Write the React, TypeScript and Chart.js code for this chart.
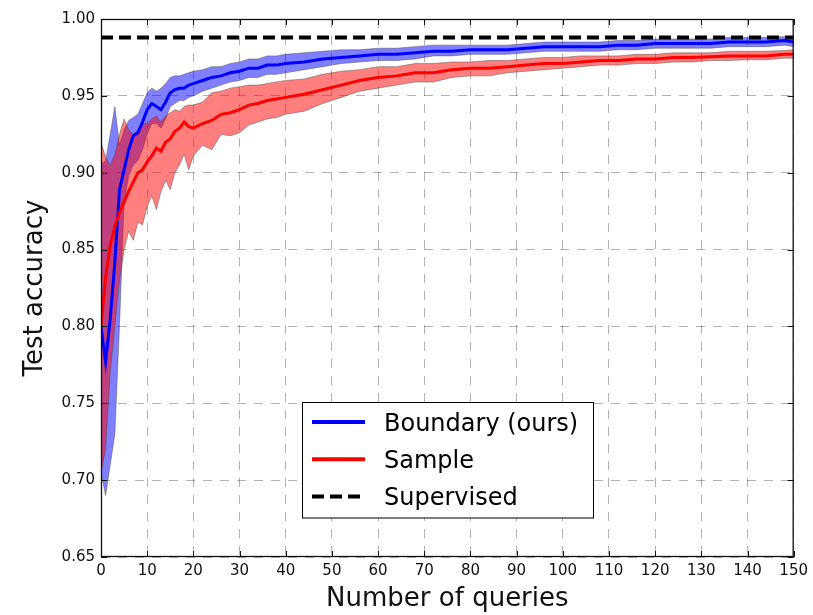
import { useEffect, useRef } from "react";
import { Chart, registerables } from "chart.js";

Chart.register(...registerables);

// ---------- data ----------
const queries = [0, 1, 2, 3, 4, 5, 6, 7, 8, 9, 10, 11, 12, 13, 14, 15, 16, 17, 18, 19, 20,
  22, 24, 26, 28, 30, 32, 34, 36, 38, 40,
  44, 48, 52, 56, 60, 64, 68, 72, 76, 80, 84, 88, 92, 96, 100, 104, 108, 112, 116, 120, 124, 128, 132, 136, 140, 144, 148, 150];

const boundaryMean = [0.800, 0.777, 0.805, 0.842, 0.889, 0.902, 0.915, 0.924, 0.926, 0.933, 0.941, 0.945, 0.943, 0.941, 0.946, 0.952, 0.954, 0.955, 0.955, 0.957, 0.958,
  0.960, 0.962, 0.963, 0.965, 0.966, 0.968, 0.968, 0.970, 0.970, 0.971,
  0.972, 0.974, 0.975, 0.976, 0.977, 0.977, 0.978, 0.979, 0.979, 0.980, 0.980, 0.980, 0.981, 0.982, 0.982, 0.982, 0.982, 0.983, 0.983, 0.984, 0.984, 0.984, 0.984, 0.985, 0.985, 0.985, 0.986, 0.985];

const boundaryUpper = [0.905, 0.908, 0.925, 0.943, 0.918, 0.928, 0.934, 0.936, 0.938, 0.945, 0.952, 0.955, 0.953, 0.955, 0.958, 0.962, 0.963, 0.963, 0.964, 0.965, 0.966,
  0.967, 0.969, 0.969, 0.971, 0.972, 0.974, 0.974, 0.976, 0.976, 0.977,
  0.978, 0.979, 0.980, 0.980, 0.981, 0.981, 0.982, 0.983, 0.983, 0.983, 0.983, 0.983, 0.984, 0.985, 0.985, 0.985, 0.985, 0.986, 0.986, 0.987, 0.987, 0.987, 0.987, 0.988, 0.988, 0.988, 0.9885, 0.988];

const boundaryLower = [0.705, 0.69, 0.71, 0.73, 0.80, 0.88, 0.898, 0.905, 0.908, 0.915, 0.925, 0.932, 0.932, 0.929, 0.935, 0.943, 0.945, 0.947, 0.947, 0.949, 0.950,
  0.953, 0.955, 0.957, 0.959, 0.960, 0.962, 0.962, 0.964, 0.964, 0.965,
  0.967, 0.969, 0.971, 0.972, 0.973, 0.973, 0.974, 0.976, 0.976, 0.977, 0.977, 0.977, 0.978, 0.979, 0.979, 0.979, 0.979, 0.980, 0.980, 0.981, 0.981, 0.981, 0.981, 0.982, 0.982, 0.982, 0.983, 0.982];

const sampleMean = [0.800, 0.832, 0.853, 0.865, 0.874, 0.881, 0.888, 0.894, 0.900, 0.902, 0.907, 0.911, 0.916, 0.914, 0.920, 0.922, 0.927, 0.929, 0.933, 0.930, 0.929,
  0.932, 0.934, 0.938, 0.939, 0.941, 0.944, 0.945, 0.947, 0.948, 0.949,
  0.951, 0.954, 0.957, 0.960, 0.962, 0.963, 0.965, 0.965, 0.967, 0.968, 0.968, 0.969, 0.970, 0.971, 0.971, 0.972, 0.973, 0.973, 0.974, 0.974, 0.975, 0.975, 0.9755, 0.976, 0.976, 0.976, 0.977, 0.977];

const sampleUpper = [0.920, 0.910, 0.905, 0.912, 0.925, 0.935, 0.928, 0.925, 0.928, 0.932, 0.932, 0.935, 0.937, 0.933, 0.937, 0.939, 0.941, 0.940, 0.943, 0.944, 0.944,
  0.946, 0.952, 0.953, 0.955, 0.956, 0.957, 0.957, 0.958, 0.959, 0.960,
  0.961, 0.964, 0.966, 0.967, 0.969, 0.969, 0.971, 0.971, 0.972, 0.972, 0.973, 0.973, 0.974, 0.975, 0.975, 0.976, 0.976, 0.976, 0.977, 0.977, 0.978, 0.978, 0.978, 0.979, 0.979, 0.979, 0.9795, 0.980];

const sampleLower = [0.705, 0.72, 0.77, 0.80, 0.83, 0.85, 0.862, 0.856, 0.868, 0.866, 0.878, 0.885, 0.876, 0.888, 0.895, 0.889, 0.900, 0.905, 0.912, 0.902, 0.911,
  0.918, 0.915, 0.925, 0.924, 0.926, 0.931, 0.933, 0.935, 0.936, 0.938,
  0.940, 0.945, 0.949, 0.953, 0.955, 0.957, 0.959, 0.959, 0.962, 0.963, 0.963, 0.965, 0.966, 0.967, 0.968, 0.969, 0.970, 0.970, 0.971, 0.971, 0.972, 0.972, 0.973, 0.973, 0.9735, 0.9735, 0.9745, 0.9745];

const supervisedAccuracy = 0.988;

const xTickValues = [0, 10, 20, 30, 40, 50, 60, 70, 80, 90, 100, 110, 120, 130, 140, 150];
const yTickValues = [0.65, 0.70, 0.75, 0.80, 0.85, 0.90, 0.95, 1.00];

const seriesNames = ["Boundary (ours)", "Sample", "Supervised"];
const xTitle = "Number of queries";
const yTitle = "Test accuracy";

// ---------- helpers ----------
const FONT = "'DejaVu Sans', sans-serif";
const pts = (ys: number[]) => queries.map((x, i) => ({ x, y: ys[i] }));
const EDGE = "rgba(70,70,70,0.45)";

const legendItems = [
  { label: seriesNames[0], color: "#0000ff", dash: [] as number[] },
  { label: seriesNames[1], color: "#ff0000", dash: [] as number[] },
  { label: seriesNames[2], color: "#000000", dash: [12, 6] },
];

const framePlugin = {
  id: "frameTicks",
  afterDatasetsDraw(chart: any) {
    const { ctx, chartArea, scales } = chart;
    const { left, right, top, bottom } = chartArea;
    const xs = scales.x;
    const ys = scales.y;
    ctx.save();
    ctx.strokeStyle = "#111";
    ctx.lineWidth = 1;
    ctx.setLineDash([]);
    ctx.beginPath();
    xs.ticks.forEach((t: any) => {
      const px = Math.round(xs.getPixelForValue(t.value)) + 0.5;
      ctx.moveTo(px, bottom);
      ctx.lineTo(px, bottom - 6);
      ctx.moveTo(px, top);
      ctx.lineTo(px, top + 6);
    });
    ys.ticks.forEach((t: any) => {
      const py = Math.round(ys.getPixelForValue(t.value)) + 0.5;
      ctx.moveTo(left, py);
      ctx.lineTo(left + 6, py);
      ctx.moveTo(right, py);
      ctx.lineTo(right - 6, py);
    });
    ctx.stroke();
    ctx.lineWidth = 1.3;
    ctx.strokeRect(left + 0.5, top + 0.5, right - left - 1, bottom - top - 1);
    ctx.restore();
  },
  afterDraw(chart: any) {
    const { ctx, chartArea } = chart;
    const boxW = 291;
    const boxH = 115.5;
    const cx = (chartArea.left + chartArea.right) / 2;
    const bx = Math.round(cx - boxW / 2) + 0.5;
    const by = Math.round(chartArea.bottom - 40 - boxH) + 0.5;
    ctx.save();
    ctx.fillStyle = "#ffffff";
    ctx.fillRect(bx, by, boxW, boxH);
    ctx.strokeStyle = "#000";
    ctx.lineWidth = 1;
    ctx.setLineDash([]);
    ctx.strokeRect(bx, by, boxW, boxH);
    ctx.font = `24px ${FONT}`;
    ctx.textBaseline = "alphabetic";
    ctx.textAlign = "left";
    legendItems.forEach((item, i) => {
      const ly = by + 19.5 + i * 37.2;
      ctx.beginPath();
      ctx.strokeStyle = item.color;
      ctx.lineWidth = 4;
      ctx.setLineDash(item.dash);
      ctx.moveTo(bx + 9.5, ly);
      ctx.lineTo(bx + 62.5, ly);
      ctx.stroke();
      ctx.setLineDash([]);
      ctx.fillStyle = "#000";
      ctx.fillText(item.label, bx + 81.5, ly + 8.7);
    });
    ctx.restore();
  },
};

export default function App() {
  const ref = useRef<HTMLCanvasElement>(null);

  useEffect(() => {
    if (!ref.current) return;
    const chart = new Chart(ref.current, {
      type: "line",
      data: {
        datasets: [
          {
            label: "boundary-low",
            data: pts(boundaryLower),
            borderColor: EDGE,
            borderWidth: 1,
            pointRadius: 0,
            fill: false,
            order: 10,
          },
          {
            label: "boundary-high",
            data: pts(boundaryUpper),
            borderColor: EDGE,
            borderWidth: 1,
            pointRadius: 0,
            fill: "-1",
            backgroundColor: "rgba(0,0,255,0.5)",
            order: 10,
          },
          {
            label: "sample-low",
            data: pts(sampleLower),
            borderColor: EDGE,
            borderWidth: 1,
            pointRadius: 0,
            fill: false,
            order: 9,
          },
          {
            label: "sample-high",
            data: pts(sampleUpper),
            borderColor: EDGE,
            borderWidth: 1,
            pointRadius: 0,
            fill: "-1",
            backgroundColor: "rgba(255,0,0,0.5)",
            order: 9,
          },
          {
            label: seriesNames[0],
            data: pts(boundaryMean),
            borderColor: "#0000ff",
            borderWidth: 3,
            pointRadius: 0,
            fill: false,
            order: 3,
          },
          {
            label: seriesNames[1],
            data: pts(sampleMean),
            borderColor: "#ff0000",
            borderWidth: 3,
            pointRadius: 0,
            fill: false,
            order: 2,
          },
          {
            label: seriesNames[2],
            data: [
              { x: queries[0], y: supervisedAccuracy },
              { x: queries[queries.length - 1], y: supervisedAccuracy },
            ],
            borderColor: "#000000",
            borderWidth: 4,
            borderDash: [12, 6],
            pointRadius: 0,
            fill: false,
            order: 1,
          },
        ],
      },
      options: {
        responsive: false,
        animation: false,
        layout: { padding: { top: 19, right: 17, bottom: 0, left: 0 } },
        plugins: {
          legend: { display: false },
          tooltip: { enabled: false },
        },
        elements: { line: { tension: 0 } },
        scales: {
          x: {
            type: "linear",
            min: 0,
            max: 150,
            afterBuildTicks: (s: any) => {
              s.ticks = xTickValues.map((v) => ({ value: v }));
            },
            afterFit: (s: any) => {
              s.height = 58;
            },
            ticks: {
              color: "#111",
              font: { family: FONT, size: 15 },
              padding: 5,
              maxRotation: 0,
              autoSkip: false,
            },
            grid: {
              color: "rgba(0,0,0,0.3)",
              lineWidth: 1,
              drawTicks: false,
            },
            border: { display: false, dash: [9, 8] },
            title: {
              display: true,
              text: xTitle,
              color: "#111",
              font: { family: FONT, size: 26, lineHeight: 1.2 },
              padding: { top: 0, bottom: 0 },
            },
          },
          y: {
            type: "linear",
            min: 0.65,
            max: 1.0,
            afterBuildTicks: (s: any) => {
              s.ticks = yTickValues.map((v) => ({ value: v }));
            },
            afterFit: (s: any) => {
              s.width = 101;
            },
            ticks: {
              color: "#111",
              font: { family: FONT, size: 15 },
              padding: 6,
              autoSkip: false,
              callback: (v: any) => Number(v).toFixed(2),
            },
            grid: {
              color: "rgba(0,0,0,0.3)",
              lineWidth: 1,
              drawTicks: false,
            },
            border: { display: false, dash: [9, 8] },
            title: {
              display: true,
              text: yTitle,
              color: "#111",
              font: { family: FONT, size: 26, lineHeight: 1.2 },
              padding: { top: 20, bottom: 0 },
            },
          },
        },
      },
      plugins: [framePlugin],
    } as any);
    return () => chart.destroy();
  }, []);

  return (
    <div style={{ position: "fixed", left: 0, top: 0, width: 813, height: 615, background: "#fff" }}>
      <canvas ref={ref} width={813} height={615} style={{ display: "block" }} />
    </div>
  );
}
